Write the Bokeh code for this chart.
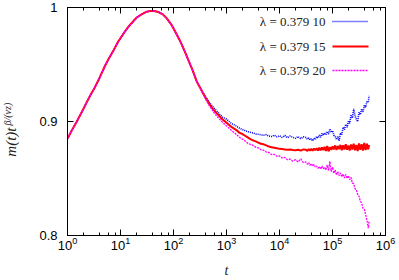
from bokeh.plotting import figure
from bokeh.models import (LogAxis, LinearAxis, FixedTicker, LogTicker,
                          CustomJSTickFormatter, Label, Arrow, Title)
from bokeh.embed import file_html
from bokeh.resources import INLINE

# ---------------- data ----------------
t = [1, 1.2, 1.5, 1.8, 2.2, 2.7, 3.2, 4, 5, 6, 7.5, 9, 11, 13.5, 16, 20, 25, 30,
     36, 43, 52, 63, 76, 91, 110, 132, 158, 190, 229, 275, 331, 398, 479, 575,
     692, 832,
     1000, 1122, 1259, 1413, 1585, 1778, 1995, 2239, 2512, 2818, 3162, 3548,
     3981, 4467, 5012, 5623, 6310, 7079, 7943, 8913, 10000, 11220, 12590, 14130,
     15850, 17780, 19950, 22390, 25120, 28180,
     31620, 33500, 35480, 37580, 39810, 42170, 44670, 47320, 50120, 53090,
     56230, 59570, 63100, 66830, 70790, 74990, 79430, 84140, 89130, 94410,
     100000, 105900, 112200, 118900, 125900, 133400, 141300, 149600, 158500,
     167900, 177800, 188400, 199500, 211300, 223900, 237100, 251200, 266100,
     281800, 298500, 316200, 335000, 354800, 375800, 398100, 421700, 446700,
     473200, 490000]

m_10 = [0.885, 0.892, 0.900, 0.907, 0.915, 0.923, 0.929, 0.938, 0.948, 0.955,
        0.963, 0.970, 0.976, 0.982, 0.986, 0.991, 0.994, 0.996, 0.997, 0.997,
        0.996, 0.994, 0.990, 0.985, 0.978, 0.971, 0.963, 0.954, 0.945, 0.935,
        0.928, 0.922, 0.9165, 0.912, 0.908, 0.904,
        0.902, 0.900, 0.898, 0.897, 0.8955, 0.894, 0.893, 0.892, 0.891, 0.8905,
        0.890, 0.889, 0.8888, 0.8882, 0.888, 0.8885, 0.8872, 0.8868, 0.888,
        0.8865, 0.8875, 0.886, 0.8878, 0.8858, 0.8872, 0.8862, 0.8852, 0.8868,
        0.885, 0.8865,
        0.8860, 0.8845, 0.8855, 0.8838, 0.8848, 0.8830, 0.8852, 0.8842, 0.8868,
        0.8855, 0.8880, 0.8862, 0.8895, 0.8878, 0.8900, 0.8885, 0.8912, 0.8890,
        0.8935, 0.8905, 0.8920, 0.8880, 0.8868, 0.8840, 0.8872, 0.8832, 0.8900,
        0.8885, 0.8950, 0.8930, 0.8975, 0.8950, 0.9000, 0.8985, 0.9060, 0.9030,
        0.9110, 0.9050, 0.9020, 0.9000, 0.9080, 0.9060, 0.9110, 0.9085, 0.9140,
        0.9125, 0.9180, 0.9165, 0.9225]

m_15 = [0.885, 0.892, 0.900, 0.907, 0.915, 0.923, 0.929, 0.938, 0.948, 0.955,
        0.963, 0.970, 0.976, 0.982, 0.986, 0.991, 0.994, 0.996, 0.997, 0.997,
        0.996, 0.994, 0.990, 0.985, 0.978, 0.971, 0.963, 0.954, 0.945, 0.935,
        0.928, 0.921, 0.915, 0.910, 0.906, 0.902,
        0.899, 0.897, 0.895, 0.8935, 0.892, 0.890, 0.889, 0.8875, 0.886, 0.8845,
        0.8835, 0.8825, 0.8815, 0.8805, 0.880, 0.879, 0.878, 0.8775, 0.877,
        0.8765, 0.876, 0.8758, 0.8755, 0.8752, 0.8755, 0.875, 0.8748, 0.8752,
        0.8745, 0.8755,
        0.8752, 0.8742, 0.8758, 0.8745, 0.8760, 0.8743, 0.8762, 0.8748, 0.8765,
        0.8745, 0.8770, 0.8748, 0.8772, 0.8750, 0.8778, 0.8742, 0.8785, 0.8738,
        0.8775, 0.8752, 0.8782, 0.8755, 0.8790, 0.8750, 0.8785, 0.8758, 0.8795,
        0.8748, 0.8792, 0.8755, 0.8800, 0.8752, 0.8790, 0.8745, 0.8798, 0.8755,
        0.8805, 0.8748, 0.8795, 0.8740, 0.8808, 0.8752, 0.8800, 0.8745, 0.8812,
        0.8750, 0.8805, 0.8755, 0.8795]

m_20 = [0.885, 0.892, 0.900, 0.907, 0.915, 0.923, 0.929, 0.938, 0.948, 0.955,
        0.963, 0.970, 0.976, 0.982, 0.986, 0.991, 0.994, 0.996, 0.997, 0.997,
        0.996, 0.994, 0.990, 0.985, 0.978, 0.971, 0.963, 0.954, 0.945, 0.935,
        0.928, 0.920, 0.9135, 0.908, 0.9035, 0.8995,
        0.896, 0.894, 0.892, 0.890, 0.888, 0.886, 0.8845, 0.883, 0.881, 0.880,
        0.879, 0.8775, 0.8768, 0.8752, 0.8748, 0.8732, 0.8728, 0.871, 0.8712,
        0.8695, 0.8698, 0.868, 0.8685, 0.8665, 0.867, 0.8652, 0.8665, 0.8645,
        0.8672, 0.864,
        0.8645, 0.8625, 0.8640, 0.8615, 0.8630, 0.8608, 0.8625, 0.8600, 0.8610,
        0.8588, 0.8605, 0.8582, 0.8610, 0.8585, 0.8600, 0.8575, 0.8620, 0.8570,
        0.8650, 0.8560, 0.8600, 0.8545, 0.8575, 0.8530, 0.8560, 0.8525, 0.8548,
        0.8515, 0.8540, 0.8505, 0.8535, 0.8500, 0.8525, 0.8490, 0.8510, 0.8460,
        0.8455, 0.8410, 0.8400, 0.8360, 0.8345, 0.8300, 0.8285, 0.8240, 0.8230,
        0.8185, 0.8135, 0.8065, 0.8125]

series_labels = ["λ = 0.379 10", "λ = 0.379 15", "λ = 0.379 20"]
y_ticks = [0.8, 0.9, 1.0]

# ---------------- figure ----------------
p = figure(width=399, height=280, x_axis_type="log",
           x_range=(1, 1e6), y_range=(0.8, 1.0),
           output_backend="svg", toolbar_location=None,
           min_border_left=67, min_border_right=14,
           min_border_top=7, min_border_bottom=43)
p.grid.visible = False
p.outline_line_color = "black"
p.outline_line_width = 1
p.background_fill_color = "white"
p.border_fill_color = "white"

sans = "Liberation Sans"
serif = "Liberation Serif"

xa = p.xaxis[0]
xa.ticker = LogTicker(desired_num_ticks=7)
xa.major_tick_in = 6
xa.major_tick_out = 0
xa.minor_tick_in = 3
xa.minor_tick_out = 0
xa.major_label_text_font = sans
xa.major_label_text_font_size = "13px"
xa.major_label_text_color = "black"
xa.major_label_standoff = 1
xa.axis_line_color = "black"
xa.axis_label = "t"
xa.axis_label_text_font = serif
xa.axis_label_text_font_style = "italic"
xa.axis_label_text_font_size = "14px"
xa.axis_label_text_color = "#222222"
xa.axis_label_standoff = 10

ya = p.yaxis[0]
ya.ticker = FixedTicker(ticks=y_ticks, minor_ticks=[])
ya.formatter = CustomJSTickFormatter(code="return Math.abs(tick-1)<1e-9 ? '1' : tick.toFixed(1);")
ya.major_tick_in = 6
ya.major_tick_out = 0
ya.minor_tick_in = 0
ya.minor_tick_out = 0
ya.major_label_text_font = sans
ya.major_label_text_font_size = "13px"
ya.major_label_text_color = "black"
ya.major_label_standoff = 10
ya.axis_line_color = "black"
# main part of the y title; trailing no-break spaces move it below centre
ya.axis_label = "m(t)t" + "\u00a0" * 11
ya.axis_label_text_font = serif
ya.axis_label_text_font_style = "italic"
ya.axis_label_text_font_size = "15px"
ya.axis_label_text_color = "#222222"
ya.axis_label_standoff = 17

empty = CustomJSTickFormatter(code="return '';")
top = LogAxis(ticker=LogTicker(desired_num_ticks=7), formatter=empty,
              major_tick_in=6, major_tick_out=0, minor_tick_in=3, minor_tick_out=0,
              major_label_standoff=0, major_label_text_font_size="1px")
right = LinearAxis(ticker=FixedTicker(ticks=y_ticks, minor_ticks=[]), formatter=empty,
                   major_tick_in=6, major_tick_out=0, minor_tick_in=0, minor_tick_out=0,
                   major_label_standoff=0, major_label_text_font_size="1px")
p.add_layout(top, "above")
p.add_layout(right, "right")

# superscript part of the y title
sup_kw = dict(text="β/(νz)", align="left", offset=110, vertical_align="bottom",
              text_font=serif, text_font_style="italic", text_font_size="10px",
              text_color="#222222")
try:
    sup = Title(standoff=-24, **sup_kw)
except Exception:
    sup = Title(standoff=0, **sup_kw)
p.add_layout(sup, "left")

# ---------------- curves ----------------
styles = [
    (m_10, "#0000ff", 1.6, "1 1"),
    (m_15, "#ff0000", 2.0, "solid"),
    (m_20, "#ff00ff", 1.3, "2 1"),
]
for vals, col, lw, dash in styles:
    p.line(t, vals, line_color=col, line_width=lw, line_dash=dash)

# ---------------- legend (text left of sample) ----------------
fw = 318
fh = 230
rows = [fh - 16, fh - 41, fh - 65]
for (vals, col, lw, dash), lab, yy in zip(styles, series_labels, rows):
    p.add_layout(Label(x=fw - 60, y=yy, x_units="screen", y_units="screen",
                       text=lab, text_align="right", text_baseline="middle",
                       text_font=serif, text_font_size="13px", text_color="#222222"))
    p.add_layout(Arrow(end=None, x_start=fw - 53, y_start=yy, x_end=fw - 17, y_end=yy,
                       start_units="screen", end_units="screen",
                       line_color=col, line_width=lw, line_dash=dash))

open("out.html", "w").write(file_html(p, INLINE))
